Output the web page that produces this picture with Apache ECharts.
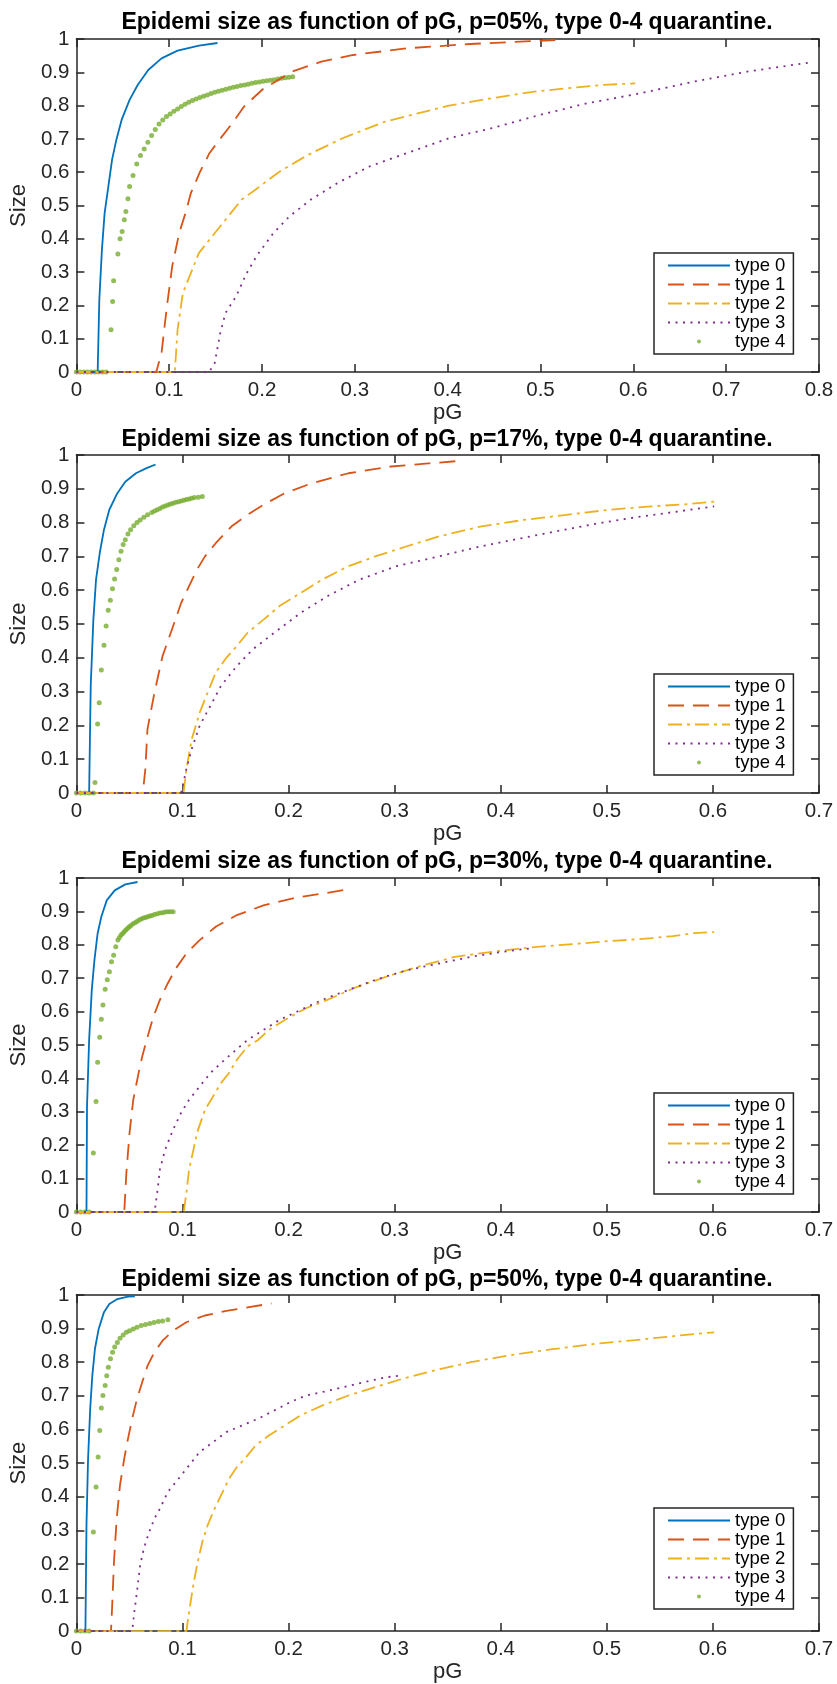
<!DOCTYPE html>
<html lang="en">
<head>
<meta charset="UTF-8">
<title>Epidemi size as function of pG</title>
<script src="https://cdn.jsdelivr.net/npm/echarts@6/dist/echarts.min.js"></script>
<style>
  * { margin: 0; padding: 0; }
  body { background: #fff; }
  #main { width: 837px; height: 1684px; }
</style>
</head>
<body>
<div id="main"></div>
<script>
// panel labels and axis ranges
const pLabels = ['05', '17', '30', '50'];
const xMaxes = [0.8, 0.7, 0.7, 0.7];
const typeNames = ['type 0', 'type 1', 'type 2', 'type 3', 'type 4'];

// p = 05%
const p05_t0 = [[0,0],[0.0229,0],[0.0247,0.217],[0.0275,0.367],[0.0304,0.477],[0.0344,0.557],[0.0384,0.637],[0.043,0.697],[0.0487,0.757],[0.0573,0.817],[0.066,0.862],[0.0774,0.907],[0.0917,0.942],[0.109,0.965],[0.132,0.98],[0.152,0.988]];
const p05_t1 = [[0,0],[0.086,0],[0.0917,0.057],[0.0975,0.197],[0.1032,0.317],[0.1107,0.417],[0.1175,0.477],[0.1233,0.537],[0.133,0.6],[0.1433,0.657],[0.1548,0.7],[0.168,0.747],[0.1806,0.797],[0.2007,0.849],[0.2322,0.902],[0.2638,0.932],[0.2982,0.952],[0.3555,0.972],[0.4243,0.985],[0.4931,0.994],[0.516,0.997]];
const p05_t2 = [[0,0],[0.106,0],[0.109,0.127],[0.1147,0.237],[0.1233,0.297],[0.1319,0.357],[0.1433,0.397],[0.1548,0.437],[0.1663,0.477],[0.1778,0.517],[0.195,0.552],[0.2179,0.6],[0.2494,0.652],[0.2867,0.702],[0.3326,0.752],[0.4014,0.8],[0.4472,0.822],[0.4931,0.842],[0.539,0.855],[0.5677,0.862],[0.602,0.867]];
const p05_t3 = [[0,0],[0.143,0],[0.149,0.027],[0.155,0.117],[0.1606,0.177],[0.172,0.227],[0.1835,0.297],[0.195,0.352],[0.2122,0.417],[0.2294,0.467],[0.2523,0.517],[0.281,0.567],[0.3154,0.617],[0.3555,0.657],[0.4014,0.702],[0.4472,0.732],[0.4989,0.772],[0.5505,0.807],[0.6078,0.837],[0.6651,0.872],[0.7225,0.902],[0.7913,0.93]];
const p05_t4 = [[0,0],[0.004,0],[0.008,0],[0.012,0],[0.016,0],[0.02,0],[0.024,0],[0.028,0],[0.032,0],[0.0373,0.127],[0.039,0.212],[0.0401,0.274],[0.0447,0.354],[0.047,0.4],[0.0493,0.422],[0.0516,0.457],[0.0533,0.482],[0.0555,0.52],[0.0573,0.557],[0.061,0.59],[0.065,0.625],[0.069,0.65],[0.073,0.67],[0.077,0.69],[0.081,0.71],[0.085,0.728],[0.089,0.745],[0.093,0.757],[0.097,0.767],[0.101,0.775],[0.105,0.783],[0.109,0.79],[0.113,0.797],[0.117,0.804],[0.121,0.81],[0.125,0.815],[0.129,0.82],[0.133,0.824],[0.137,0.828],[0.141,0.832],[0.145,0.836],[0.149,0.84],[0.153,0.843],[0.157,0.846],[0.161,0.849],[0.165,0.852],[0.169,0.855],[0.173,0.857],[0.177,0.86],[0.181,0.862],[0.185,0.864],[0.189,0.867],[0.193,0.869],[0.197,0.871],[0.201,0.873],[0.205,0.875],[0.209,0.876],[0.213,0.878],[0.217,0.88],[0.221,0.882],[0.225,0.884],[0.229,0.885],[0.233,0.887]];

// p = 17%
const p17_t0 = [[0,0],[0.012,0],[0.0135,0.317],[0.016,0.513],[0.0185,0.631],[0.022,0.71],[0.026,0.779],[0.031,0.838],[0.0386,0.887],[0.0461,0.921],[0.0561,0.946],[0.0661,0.961],[0.0746,0.972]];
const p17_t1 = [[0,0],[0.0626,0],[0.065,0.071],[0.067,0.189],[0.0736,0.297],[0.0812,0.405],[0.0912,0.494],[0.0987,0.562],[0.1062,0.612],[0.1137,0.661],[0.1212,0.7],[0.1313,0.739],[0.1463,0.789],[0.1613,0.823],[0.1764,0.853],[0.1964,0.887],[0.2214,0.916],[0.2565,0.946],[0.2966,0.966],[0.3317,0.975],[0.3592,0.982]];
const p17_t2 = [[0,0],[0.101,0],[0.1037,0.071],[0.1087,0.159],[0.1162,0.238],[0.1237,0.297],[0.1313,0.356],[0.1413,0.4],[0.1513,0.435],[0.1613,0.474],[0.1764,0.513],[0.1914,0.553],[0.2114,0.592],[0.2315,0.631],[0.2565,0.671],[0.2816,0.7],[0.3116,0.73],[0.3417,0.759],[0.3818,0.789],[0.4218,0.808],[0.4619,0.823],[0.502,0.838],[0.5421,0.848],[0.5772,0.855],[0.6012,0.862]];
const p17_t3 = [[0,0],[0.0987,0],[0.1037,0.071],[0.1087,0.13],[0.1162,0.199],[0.1263,0.258],[0.1363,0.317],[0.1513,0.376],[0.1663,0.425],[0.1864,0.474],[0.2114,0.533],[0.2365,0.582],[0.2665,0.631],[0.3016,0.671],[0.3417,0.7],[0.3818,0.73],[0.4118,0.749],[0.4519,0.774],[0.492,0.798],[0.5321,0.818],[0.5671,0.833],[0.6012,0.848]];
const p17_t4 = [[0,0],[0.004,0],[0.008,0],[0.012,0],[0.016,0],[0.0175,0.031],[0.02,0.204],[0.0215,0.267],[0.0235,0.364],[0.026,0.437],[0.028,0.494],[0.03,0.541],[0.032,0.57],[0.034,0.604],[0.036,0.633],[0.038,0.661],[0.04,0.69],[0.0421,0.715],[0.0441,0.735],[0.0461,0.749],[0.0486,0.766],[0.0511,0.779],[0.0541,0.791],[0.0571,0.8],[0.0601,0.808],[0.0636,0.816],[0.0671,0.823],[0.0711,0.83],[0.0737,0.834],[0.0762,0.838],[0.0787,0.842],[0.0812,0.846],[0.0837,0.849],[0.0862,0.852],[0.0887,0.855],[0.0912,0.857],[0.0937,0.86],[0.0962,0.862],[0.0987,0.864],[0.1012,0.866],[0.1037,0.868],[0.1062,0.87],[0.1087,0.872],[0.1112,0.874],[0.115,0.875],[0.1187,0.877]];

// p = 30%
const p30_t0 = [[0,0],[0.0095,0],[0.01,0.316],[0.012,0.515],[0.0145,0.665],[0.017,0.754],[0.02,0.834],[0.0235,0.884],[0.0286,0.933],[0.0361,0.963],[0.0461,0.981],[0.0576,0.988]];
const p30_t1 = [[0,0],[0.0451,0],[0.0471,0.117],[0.0501,0.237],[0.0536,0.336],[0.0586,0.416],[0.0621,0.466],[0.0671,0.525],[0.0726,0.585],[0.0787,0.635],[0.0862,0.685],[0.0937,0.729],[0.1037,0.774],[0.1162,0.814],[0.1313,0.854],[0.1513,0.889],[0.1764,0.918],[0.2064,0.941],[0.2315,0.953],[0.259,0.968]];
const p30_t2 = [[0,0],[0.1012,0],[0.1037,0.058],[0.1062,0.127],[0.1097,0.177],[0.1137,0.237],[0.1212,0.306],[0.1288,0.346],[0.1363,0.386],[0.1438,0.416],[0.1513,0.456],[0.1613,0.496],[0.1713,0.515],[0.1814,0.545],[0.1964,0.575],[0.2164,0.61],[0.2365,0.635],[0.2615,0.67],[0.2916,0.704],[0.3216,0.734],[0.3567,0.764],[0.3918,0.779],[0.4218,0.79],[0.4469,0.797],[0.4719,0.803],[0.497,0.81],[0.522,0.815],[0.5421,0.82],[0.5621,0.826],[0.5822,0.835],[0.6012,0.838]];
const p30_t3 = [[0,0],[0.0737,0],[0.0762,0.058],[0.0787,0.127],[0.0837,0.187],[0.0912,0.247],[0.0987,0.297],[0.1062,0.336],[0.1162,0.376],[0.1263,0.416],[0.1363,0.446],[0.1488,0.481],[0.1613,0.515],[0.1764,0.545],[0.1914,0.575],[0.2114,0.605],[0.2315,0.635],[0.2565,0.665],[0.2816,0.695],[0.3116,0.724],[0.3417,0.744],[0.3717,0.764],[0.4018,0.779],[0.4269,0.789]];
const p30_t4 = [[0,0],[0.004,0],[0.008,0],[0.012,0],[0.016,0.177],[0.0185,0.331],[0.02,0.448],[0.022,0.523],[0.0235,0.577],[0.025,0.62],[0.0271,0.667],[0.0291,0.695],[0.0311,0.719],[0.0331,0.749],[0.0351,0.769],[0.0371,0.794],[0.0391,0.814],[0.0406,0.822],[0.0421,0.829],[0.0436,0.834],[0.0451,0.839],[0.0466,0.844],[0.0481,0.849],[0.0496,0.853],[0.0511,0.857],[0.0531,0.862],[0.0551,0.866],[0.0571,0.87],[0.0591,0.874],[0.0611,0.877],[0.0631,0.88],[0.0651,0.882],[0.0671,0.884],[0.0691,0.886],[0.0711,0.888],[0.0736,0.891],[0.0762,0.893],[0.0787,0.895],[0.0812,0.896],[0.0837,0.898],[0.0862,0.899],[0.0887,0.899],[0.0912,0.899]];

// p = 50%
const p50_t0 = [[0,0],[0.0085,0],[0.0095,0.315],[0.011,0.513],[0.013,0.661],[0.015,0.76],[0.0175,0.84],[0.021,0.899],[0.026,0.949],[0.031,0.973],[0.0386,0.988],[0.0486,0.995],[0.0551,0.996]];
const p50_t1 = [[0,0],[0.0326,0],[0.0336,0.067],[0.0356,0.216],[0.038,0.335],[0.0411,0.434],[0.0451,0.513],[0.0486,0.572],[0.0526,0.632],[0.0571,0.691],[0.0621,0.741],[0.0671,0.79],[0.0736,0.83],[0.0812,0.864],[0.0912,0.894],[0.1037,0.919],[0.1212,0.939],[0.1413,0.953],[0.1613,0.963],[0.1839,0.975]];
const p50_t2 = [[0,0],[0.1037,0],[0.1062,0.057],[0.1102,0.137],[0.1137,0.196],[0.1187,0.265],[0.1237,0.315],[0.1288,0.354],[0.1363,0.404],[0.1438,0.453],[0.1513,0.488],[0.1588,0.513],[0.1688,0.552],[0.1814,0.582],[0.1964,0.612],[0.2114,0.642],[0.2315,0.671],[0.2565,0.701],[0.2816,0.726],[0.3066,0.75],[0.3367,0.775],[0.3717,0.8],[0.4068,0.82],[0.4469,0.838],[0.487,0.854],[0.527,0.866],[0.5671,0.879],[0.6012,0.889]];
const p50_t3 = [[0,0],[0.0526,0],[0.0546,0.057],[0.0571,0.117],[0.0601,0.196],[0.0636,0.246],[0.0686,0.295],[0.0736,0.335],[0.0787,0.364],[0.0862,0.414],[0.0962,0.453],[0.1062,0.493],[0.1162,0.533],[0.1288,0.562],[0.1413,0.592],[0.1563,0.612],[0.1713,0.632],[0.1864,0.656],[0.2014,0.681],[0.2164,0.701],[0.2315,0.711],[0.2515,0.726],[0.2715,0.741],[0.2916,0.755],[0.3041,0.76]];
const p50_t4 = [[0,0],[0.004,0],[0.008,0],[0.012,0],[0.016,0.295],[0.0185,0.429],[0.0205,0.518],[0.022,0.597],[0.0235,0.664],[0.025,0.701],[0.0271,0.731],[0.0286,0.76],[0.0301,0.785],[0.0321,0.81],[0.0341,0.83],[0.0361,0.845],[0.0386,0.859],[0.0411,0.871],[0.0441,0.881],[0.0471,0.889],[0.0501,0.894],[0.0536,0.899],[0.0571,0.904],[0.0611,0.909],[0.0651,0.912],[0.0691,0.915],[0.0731,0.918],[0.0772,0.921],[0.0812,0.923],[0.0862,0.926]];

const panelData = [
  [p05_t0, p05_t1, p05_t2, p05_t3, p05_t4],
  [p17_t0, p17_t1, p17_t2, p17_t3, p17_t4],
  [p30_t0, p30_t1, p30_t2, p30_t3, p30_t4],
  [p50_t0, p50_t1, p50_t2, p50_t3, p50_t4]
];

// layout (pixels)
const gridTops = [39, 455, 878, 1295];
const gridHeights = [333, 338, 334, 337];
const titleY = [23, 440, 862, 1280];
const legendTops = [253, 674, 1093, 1508];

const colors = ['#0072BD', '#D95319', '#EDB120', '#7E2F8E', '#77AC30'];
const dashes = ['solid', [16, 9], [14, 5, 3, 5], [2, 5.5]];
const font = 'Liberation Sans, Arial, Helvetica, sans-serif';
const axisColor = '#262626';

var chart = echarts.init(document.getElementById('main'));

var grid = [], xAxis = [], yAxis = [], title = [], legend = [], series = [];

// legend entries: hide the centre marker that echarts puts on line icons
var legendData = typeNames.map((n, k) => k < 4 ? { name: n, itemStyle: { opacity: 0 } } : n);

pLabels.forEach((p, i) => {
  grid.push({ left: 75, top: gridTops[i], width: 744, height: gridHeights[i] });
  title.push({
    text: 'Epidemi size as function of pG, p=' + p + '%, type 0-4 quarantine.',
    left: 447, top: titleY[i], padding: 0,
    textAlign: 'center', textVerticalAlign: 'middle',
    textStyle: { fontFamily: font, fontSize: 23, fontWeight: 'bold', color: '#000' }
  });
  var lineStyle = { color: axisColor, width: 1.5 };
  var tick = { inside: true, length: 8, lineStyle: lineStyle };
  // bottom (labelled) and top (mirror) x axes
  xAxis.push({
    gridIndex: i, type: 'value', position: 'bottom', min: 0, max: xMaxes[i], interval: 0.1,
    name: 'pG', nameLocation: 'middle', nameGap: 28,
    nameTextStyle: { fontFamily: font, fontSize: 22, color: axisColor },
    axisLine: { show: true, onZero: false, lineStyle: lineStyle },
    axisTick: tick, splitLine: { show: false },
    axisLabel: { margin: 8, fontFamily: font, fontSize: 20.5, color: axisColor,
      formatter: v => String(Math.round(v * 10) / 10) }
  });
  xAxis.push({
    gridIndex: i, type: 'value', position: 'top', min: 0, max: xMaxes[i], interval: 0.1,
    axisLine: { show: true, onZero: false, lineStyle: lineStyle },
    axisTick: tick, axisLabel: { show: false }, splitLine: { show: false }
  });
  yAxis.push({
    gridIndex: i, type: 'value', position: 'left', min: 0, max: 1, interval: 0.1,
    name: 'Size', nameLocation: 'middle', nameGap: 43,
    nameTextStyle: { fontFamily: font, fontSize: 22, color: axisColor },
    axisLine: { show: true, onZero: false, lineStyle: lineStyle },
    axisTick: tick, splitLine: { show: false },
    axisLabel: { margin: 7, fontFamily: font, fontSize: 20.5, color: axisColor,
      formatter: v => String(Math.round(v * 10) / 10) }
  });
  yAxis.push({
    gridIndex: i, type: 'value', position: 'right', min: 0, max: 1, interval: 0.1,
    axisLine: { show: true, onZero: false, lineStyle: lineStyle },
    axisTick: tick, axisLabel: { show: false }, splitLine: { show: false }
  });
  legend.push({
    orient: 'vertical', left: 654, top: legendTops[i],
    data: legendData, selectedMode: false,
    itemWidth: 62, itemHeight: 4, itemGap: 0,
    padding: [3, 8, 3, 13],
    borderColor: axisColor, borderWidth: 1.5, backgroundColor: '#fff',
    textStyle: { fontFamily: font, fontSize: 18.5, lineHeight: 18, color: '#000' }
  });

  panelData[i].forEach((data, k) => {
    if (k < 4) {
      series.push({
        type: 'line', name: typeNames[k], xAxisIndex: 2 * i, yAxisIndex: 2 * i,
        data: data, symbol: 'none', animation: false, silent: true,
        itemStyle: { color: colors[k] },
        lineStyle: { color: colors[k], width: 1.8, type: dashes[k] }
      });
    } else {
      series.push({
        type: 'scatter', name: typeNames[k], xAxisIndex: 2 * i, yAxisIndex: 2 * i,
        data: data, symbol: 'circle', symbolSize: 5, animation: false, silent: true,
        itemStyle: { color: colors[k] }
      });
    }
  });
});

chart.setOption({
  backgroundColor: '#fff',
  animation: false,
  title: title,
  legend: legend,
  grid: grid,
  xAxis: xAxis,
  yAxis: yAxis,
  series: series
});
</script>
</body>
</html>
